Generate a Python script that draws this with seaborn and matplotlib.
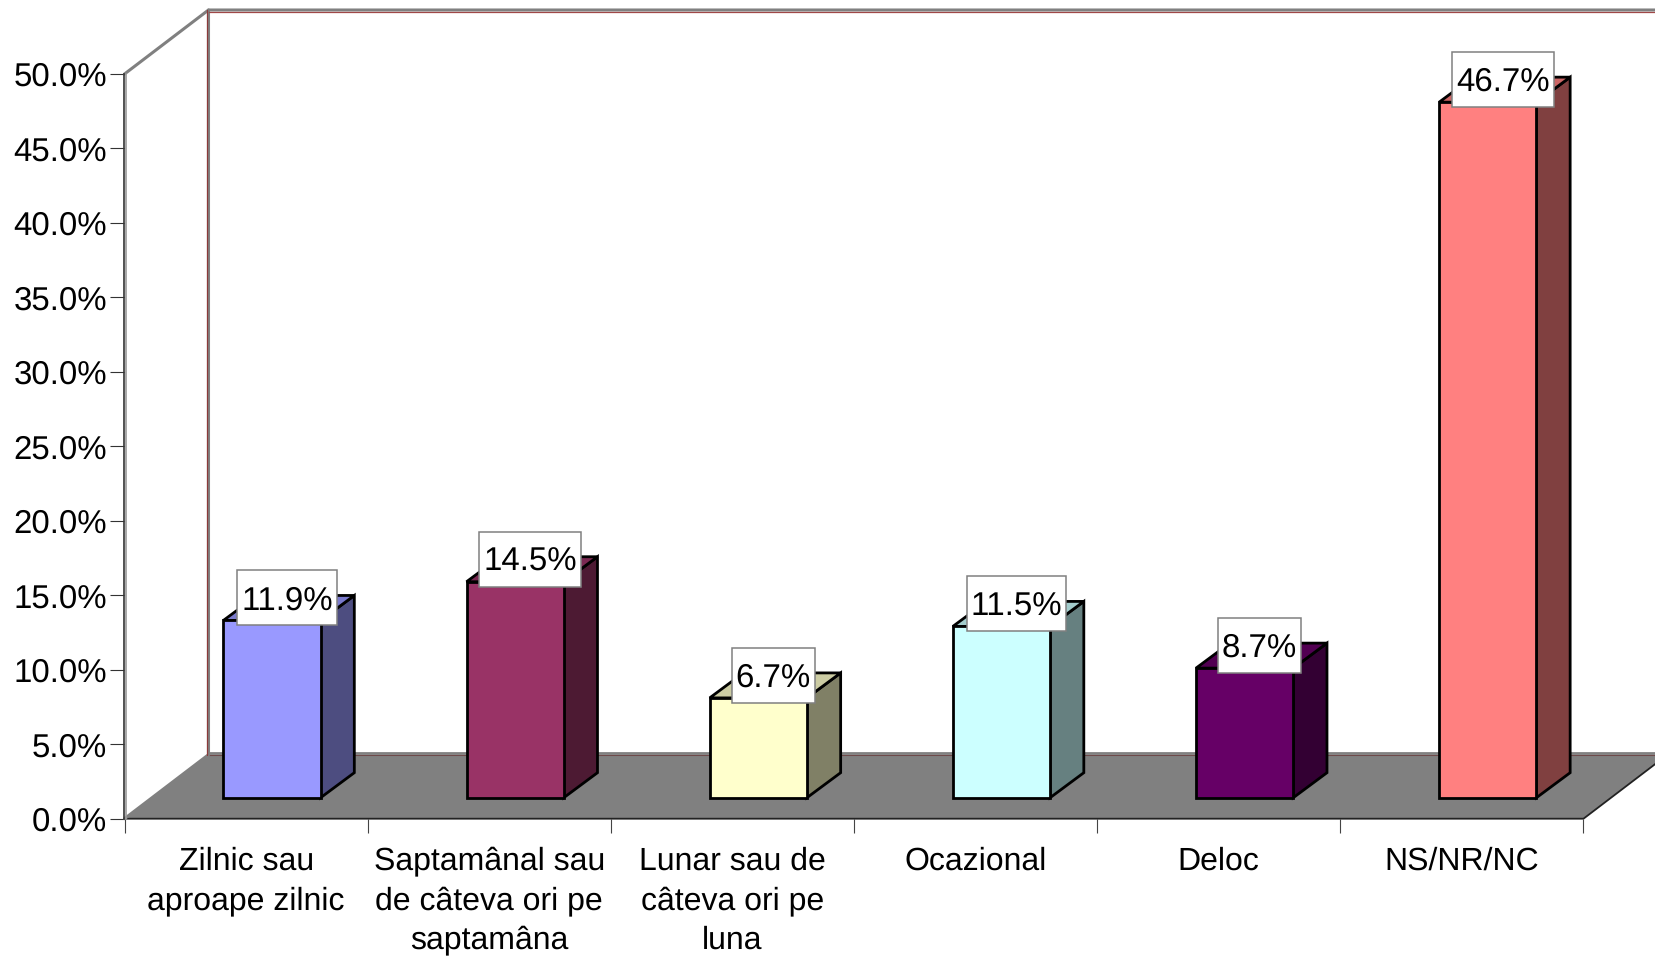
import matplotlib
matplotlib.use('Agg')
import matplotlib.pyplot as plt
import seaborn as sns
from matplotlib.patches import Polygon, Rectangle

# Data
categories = ['Zilnic sau\naproape zilnic', 'Saptamânal sau\nde câteva ori pe\nsaptamâna',
              'Lunar sau de\ncâteva ori pe\nluna', 'Ocazional', 'Deloc', 'NS/NR/NC']
values = [11.9, 14.5, 6.7, 11.5, 8.7, 46.7]
colors = ['#9999FF', '#993366', '#FFFFCC', '#CCFFFF', '#660066', '#FF8080']
y_ticks = [0, 5, 10, 15, 20, 25, 30, 35, 40, 45, 50]

sns.set_style('white')
plt.rcParams['font.family'] = ['Liberation Sans', 'DejaVu Sans']
plt.rcParams['text.hinting'] = 'no_hinting'
plt.rcParams['text.hinting_factor'] = 1

W, H = 1656, 959
fig = plt.figure(figsize=(W / 100, H / 100), dpi=100)
ax = fig.add_axes([124.5 / W, (H - 818.7) / H, 1459 / W, 744.7 / H])

# front faces of the bars
sns.barplot(x=categories, y=values, hue=categories, palette=colors, legend=False, saturation=1,
            width=0.4, edgecolor='black', linewidth=2.0, zorder=5, ax=ax)
ax.set_xlim(-0.5, 5.5)
ax.set_ylim(0, 50)
ax.set_facecolor('none')

# pixels per data unit
px_x = 1459 / 6
px_y = 744.7 / 50
# depth of the floor, depth of a bar and where the bars stand on the floor
depth_x, depth_y = 84 / px_x, 64 / px_y
bar_dx, bar_dy = 33.7 / px_x, 25 / px_y
front_dx, front_dy = 25.9 / px_x, 21 / px_y


def shade(col, f):
    r, g, b = matplotlib.colors.to_rgb(col)
    return (r * f, g * f, b * f)


# walls and floor
x0, x1 = -0.5, 5.5
back_x = x0 + depth_x
back_top = 50 + depth_y
ax.add_patch(Polygon([(x0, 0), (x1, 0), (x1 + depth_x, depth_y), (back_x, depth_y)],
                     facecolor='#808080', edgecolor='none', zorder=1, clip_on=False))
ax.plot([x0, x1, x1 + depth_x], [0, 0, depth_y], color='#222222', lw=1.3, zorder=2, clip_on=False)
ax.plot([back_x, x1 + depth_x], [depth_y + 1.5 / px_y] * 2, color='#808080', lw=2, zorder=2, clip_on=False)
ax.plot([back_x, x1 + depth_x], [depth_y] * 2, color='#6E4A4A', lw=0.8, zorder=2, clip_on=False)
ax.plot([x0, back_x, back_x], [0, depth_y, back_top], color='#808080', lw=2.2, zorder=2, clip_on=False)
ax.plot([back_x - 1.5 / px_x] * 2, [depth_y, back_top], color='#8B3A3A', lw=0.9, zorder=3, clip_on=False)
ax.plot([back_x, x1 + 1], [back_top - 1.6 / px_y] * 2, color='#A04848', lw=0.9, zorder=3, clip_on=False)
ax.plot([x0, back_x, x1 + 1], [50, back_top, back_top], color='#808080', lw=2.2, zorder=2, clip_on=False)
ax.plot([x0 + 1.5 / px_x] * 2, [0, 50], color='#9A9A9A', lw=1.2, zorder=2, clip_on=False)

# side and top faces, labels
texts = []
for bar, val, col in zip(ax.patches, values, colors):
    bar.set_x(bar.get_x() + front_dx)
    bar.set_y(front_dy)
    left = bar.get_x()
    right = left + bar.get_width()
    top = front_dy + val
    ax.add_patch(Polygon([(right, front_dy), (right + bar_dx, front_dy + bar_dy),
                          (right + bar_dx, top + bar_dy), (right, top)],
                         facecolor=shade(col, 0.5), edgecolor='black', lw=2.0, zorder=4, clip_on=False))
    ax.add_patch(Polygon([(left, top), (left + bar_dx, top + bar_dy),
                          (right + bar_dx, top + bar_dy), (right, top)],
                         facecolor=shade(col, 0.8), edgecolor='black', lw=2.0, zorder=4, clip_on=False))
    cx = (left + right) / 2 + 15 / px_x
    cy = top + 23.2 / px_y
    texts.append(ax.text(cx, cy, f'{val:.1f}%', ha='center', va='center_baseline', fontsize=23.5,
                         color='black', zorder=8, clip_on=False))

# white boxes behind the labels
fig.canvas.draw()
renderer = fig.canvas.get_renderer()
for t in texts:
    w = (t.get_window_extent(renderer).width + 8) / px_x
    h = 55 / px_y
    cx, cy = t.get_position()
    ax.add_patch(Rectangle((cx - w / 2, cy - h / 2 - 0.7 / px_y), w, h, facecolor='white',
                           edgecolor='#808080', lw=1.1, zorder=7, clip_on=False))

# axes
sns.despine(ax=ax, top=True, right=True, left=False, bottom=False)
ax.spines['left'].set_color('#333333')
ax.spines['left'].set_linewidth(1.2)
ax.spines['bottom'].set_visible(False)
ax.set_yticks(y_ticks)
ax.set_yticklabels([f'{v:.1f}%' for v in y_ticks], fontsize=23.5, color='black')
ax.tick_params(axis='y', length=10, width=0.8, color='#333333', pad=2.5, left=True)
ax.set_xticks(range(len(categories)))
ax.set_xticklabels(categories, fontsize=23, color='black', linespacing=1.41)
ax.set_xticks([i - 0.5 for i in range(len(categories) + 1)], minor=True)
ax.tick_params(axis='x', which='major', length=0, pad=20)
ax.tick_params(axis='x', which='minor', length=10, width=0.8, color='#444444', bottom=True)

fig.savefig('out.png', dpi=100)
